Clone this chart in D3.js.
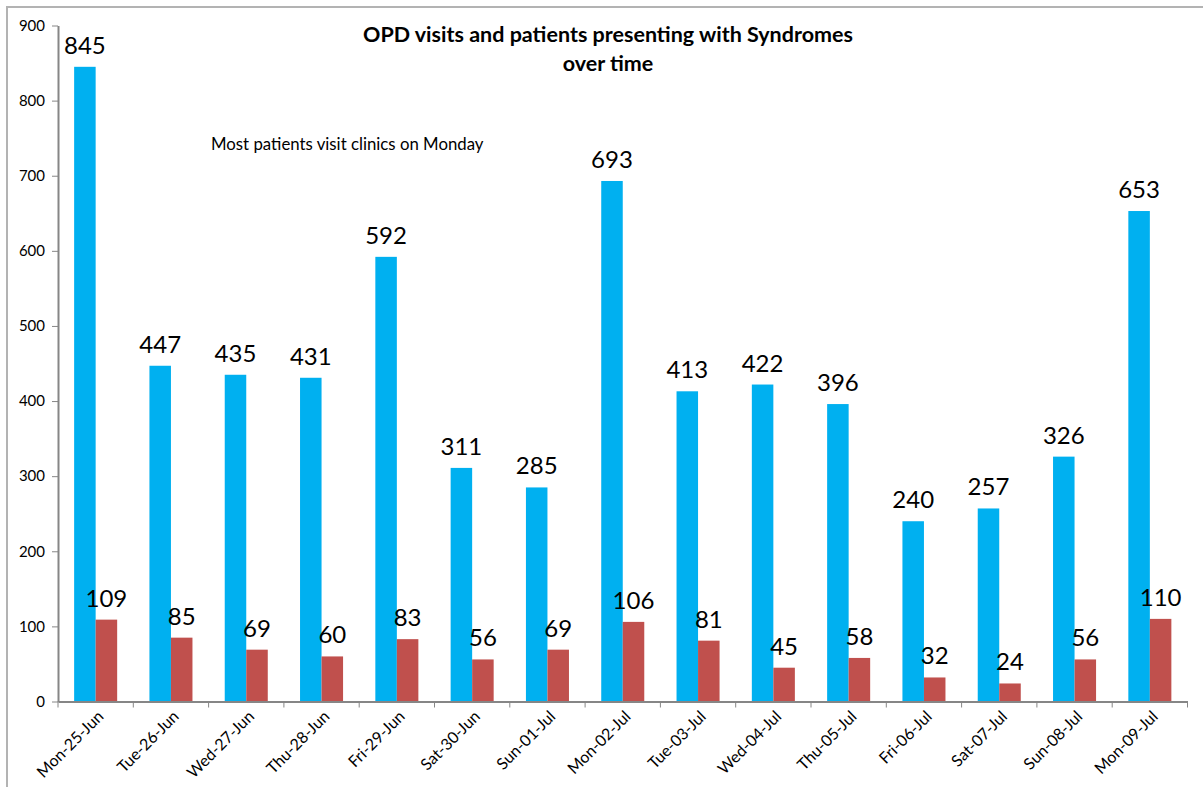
<!DOCTYPE html>
<html lang="en">
<head>
<meta charset="utf-8">
<title>OPD visits and patients presenting with Syndromes</title>
<script src="https://d3js.org/d3.v7.min.js"></script>
<style>
    body { margin: 0; background: white; }
    text { font-family: Lato, "Open Sans", sans-serif; }
</style>
</head>
<body>
<div id="chart"></div>
<script>
    // data
    var days = ["Mon-25-Jun", "Tue-26-Jun", "Wed-27-Jun", "Thu-28-Jun", "Fri-29-Jun", "Sat-30-Jun", "Sun-01-Jul",
                "Mon-02-Jul", "Tue-03-Jul", "Wed-04-Jul", "Thu-05-Jul", "Fri-06-Jul", "Sat-07-Jul", "Sun-08-Jul", "Mon-09-Jul"];
    var opdVisits = [845, 447, 435, 431, 592, 311, 285, 693, 413, 422, 396, 240, 257, 326, 653];
    var syndromes = [109, 85, 69, 60, 83, 56, 69, 106, 81, 45, 58, 32, 24, 56, 110];
    var seriesNames = ["OPD visits", "Syndromes"];
    var seriesColors = ["#00b0f0", "#c0504d"];
    var yTicks = [0, 100, 200, 300, 400, 500, 600, 700, 800, 900];

    var W = 1203, H = 787;
    var plot = {left: 58, right: 1187.5, top: 25.5, bottom: 701.5};

    var svg = d3.select("#chart").append("svg")
        .attr("width", W)
        .attr("height", H);

    // chart area border
    svg.append("rect")
        .attr("x", 7).attr("y", 7)
        .attr("width", W).attr("height", H)
        .attr("fill", "none")
        .attr("stroke", "#b3b3b3")
        .attr("stroke-width", 2);

    var x0 = d3.scaleBand()
        .domain(days)
        .range([plot.left, plot.right])
        .padding(0);

    var x1 = d3.scaleBand()
        .domain(seriesNames)
        .range([0, x0.bandwidth()])
        .paddingInner(0)
        .paddingOuter(0.75);

    var y = d3.scaleLinear()
        .domain([0, 900])
        .range([plot.bottom, plot.top]);

    var rows = days.map(function(d, i) {
        return {day: d, values: [opdVisits[i], syndromes[i]]};
    });

    // bars
    var groups = svg.append("g").selectAll("g")
        .data(rows)
        .enter().append("g")
        .attr("transform", function(d) { return "translate(" + x0(d.day) + ",0)"; });

    groups.selectAll("rect")
        .data(function(d) { return d.values.map(function(v, j) { return {name: seriesNames[j], value: v, j: j}; }); })
        .enter().append("rect")
        .attr("x", function(d) { return x1(d.name); })
        .attr("y", function(d) { return y(d.value); })
        .attr("width", x1.bandwidth())
        .attr("height", function(d) { return y(0) - y(d.value); })
        .attr("fill", function(d) { return seriesColors[d.j]; });

    // data labels
    groups.selectAll("text")
        .data(function(d) { return d.values.map(function(v, j) { return {name: seriesNames[j], value: v}; }); })
        .enter().append("text")
        .attr("x", function(d) { return x1(d.name) + x1.bandwidth() / 2; })
        .attr("y", function(d) { return y(d.value) - 13; })
        .attr("text-anchor", "middle")
        .style("font-size", "24px")
        .style("fill", "#000")
        .text(function(d) { return d.value; });

    // y axis
    var yAxis = svg.append("g")
        .attr("transform", "translate(" + plot.left + ",0)")
        .call(d3.axisLeft(y).tickValues(yTicks).tickSize(6).tickPadding(7).tickSizeOuter(0));
    yAxis.select(".domain").attr("stroke", "#868686").attr("stroke-width", 2);
    yAxis.selectAll(".tick line").attr("stroke", "#868686");
    yAxis.selectAll(".tick text")
        .style("font-family", "Lato, sans-serif")
        .style("font-size", "15px")
        .style("fill", "#000");

    // x axis
    var xAxis = svg.append("g")
        .attr("transform", "translate(0," + plot.bottom + ")")
        .call(d3.axisBottom(x0).tickSize(0).tickSizeOuter(0));
    xAxis.select(".domain").attr("stroke", "#868686").attr("stroke-width", 2);
    xAxis.selectAll(".tick text")
        .attr("text-anchor", "end")
        .attr("transform", "translate(5,12) rotate(-45)")
        .attr("y", 0)
        .attr("dy", "0.35em")
        .style("font-family", "Lato, sans-serif")
        .style("font-size", "16px")
        .style("fill", "#000");

    // tick marks between categories
    var bounds = days.map(function(d) { return x0(d); }).concat([x0(days[days.length - 1]) + x0.step()]);
    xAxis.selectAll(".bound")
        .data(bounds)
        .enter().append("line")
        .attr("class", "bound")
        .attr("x1", function(d) { return d; })
        .attr("x2", function(d) { return d; })
        .attr("y1", 0)
        .attr("y2", 6)
        .attr("stroke", "#868686");

    // title
    var title = svg.append("text")
        .attr("x", 608)
        .attr("text-anchor", "middle")
        .style("font-size", "21.5px")
        .style("font-weight", "bold");
    title.append("tspan").attr("x", 608).attr("y", 42).text("OPD visits and patients presenting with Syndromes");
    title.append("tspan").attr("x", 608).attr("y", 71).text("over time");

    // annotation
    svg.append("text")
        .attr("x", 211)
        .attr("y", 150)
        .style("font-size", "16.8px")
        .text("Most patients visit clinics on Monday");
</script>
</body>
</html>
